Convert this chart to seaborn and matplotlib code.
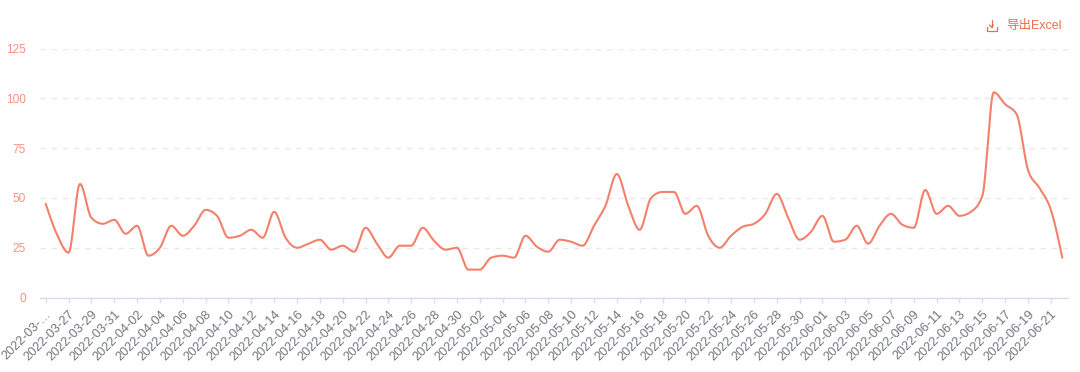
import matplotlib
matplotlib.use("Agg")
import matplotlib.pyplot as plt
import seaborn as sns
import numpy as np
from matplotlib.lines import Line2D

# one value per day, 2022-03-25 .. 2022-06-22
values = [47, 31.5, 22.5, 57, 40, 37, 39, 32, 36, 21,
          25, 36, 31, 36, 44, 41, 30, 31, 34, 30,
          43, 30, 25, 27, 29, 24, 26, 23, 35, 27,
          20, 26, 26, 35, 28.5, 24, 25, 14, 14, 20,
          21, 20, 31, 25.5, 23, 29, 28, 26, 36, 46,
          62, 46, 34, 50, 53, 53, 42, 46, 31, 25,
          31, 35.5, 37, 42, 52, 40, 29, 33, 41, 28,
          29, 36, 27, 36, 42, 36.5, 35, 54, 42, 46,
          41, 43, 51, 103, 97, 92, 64, 55, 44, 20]

tick_labels = ["2022-03-…", "2022-03-27", "2022-03-29", "2022-03-31", "2022-04-02",
               "2022-04-04", "2022-04-06", "2022-04-08", "2022-04-10", "2022-04-12",
               "2022-04-14", "2022-04-16", "2022-04-18", "2022-04-20", "2022-04-22",
               "2022-04-24", "2022-04-26", "2022-04-28", "2022-04-30", "2022-05-02",
               "2022-05-04", "2022-05-06", "2022-05-08", "2022-05-10", "2022-05-12",
               "2022-05-14", "2022-05-16", "2022-05-18", "2022-05-20", "2022-05-22",
               "2022-05-24", "2022-05-26", "2022-05-28", "2022-05-30", "2022-06-01",
               "2022-06-03", "2022-06-05", "2022-06-07", "2022-06-09", "2022-06-11",
               "2022-06-13", "2022-06-15", "2022-06-17", "2022-06-19", "2022-06-21"]

y_ticks = [0, 25, 50, 75, 100, 125]

W, H = 1080, 372
LINE = "#f4806c"
SALMON = "#f8917f"
BUTTON = "#f1694f"
GRAY = "#73767f"


def smooth_curve(y, steps=16):
    # monotone cubic between the daily values, flat at the local peaks
    y = np.asarray(y, dtype=float)
    s = np.diff(y)
    m = np.zeros(len(y))
    m[1:-1] = (np.sign(s[:-1]) + np.sign(s[1:])) * np.minimum.reduce(
        [np.abs(s[:-1]), np.abs(s[1:]), 0.25 * np.abs(s[:-1] + s[1:])])
    m[0] = (3 * s[0] - m[1]) / 2
    m[-1] = (3 * s[-1] - m[-2]) / 2
    t = np.linspace(0, 1, steps, endpoint=False)
    cx, cy = [], []
    for i in range(len(y) - 1):
        cx.append(i + t)
        cy.append((2 * t**3 - 3 * t**2 + 1) * y[i] + (t**3 - 2 * t**2 + t) * m[i]
                  + (-2 * t**3 + 3 * t**2) * y[i + 1] + (t**3 - t**2) * m[i + 1])
    cx.append([len(y) - 1])
    cy.append([y[-1]])
    return np.concatenate(cx), np.concatenate(cy)


sns.set_theme(style="white")
plt.rcParams['font.family'] = ['Liberation Sans', 'Noto Sans CJK SC', 'DejaVu Sans']

fig = plt.figure(figsize=(W / 100, H / 100), dpi=100)
ax = fig.add_axes([40 / W, 1 - 297.5 / H, 1028 / W, 249 / H])

xs = np.arange(len(values))
cx, cy = smooth_curve(values)

sns.lineplot(x=cx, y=cy, ax=ax, color=LINE, linewidth=1.5,
             estimator=None, sort=False, zorder=3)
ax.set_xlim(-0.5, len(values) - 0.5)
ax.set_ylim(0, 125)

for s in ["top", "right", "left"]:
    ax.spines[s].set_visible(False)
ax.spines["bottom"].set_color("#d8dcf0")
ax.spines["bottom"].set_linewidth(1)

ax.set_yticks(y_ticks)
ax.set_xticks(xs[::2])
ax.set_xticklabels(tick_labels, rotation=45, ha="right", rotation_mode="anchor")
ax.tick_params(axis="y", length=0, pad=10, labelsize=8.6, labelcolor=SALMON)
ax.tick_params(axis="x", bottom=True, length=3.6, width=1, color="#d8dcf0", pad=4,
               labelsize=9.2, labelcolor=GRAY)
ax.yaxis.grid(True, color="#e9e9e9", linestyle=(0, (4, 4)), linewidth=1)
ax.xaxis.grid(False)
ax.set_axisbelow(True)

# export button, top right
fig.text(1006 / W, 1 - 26 / H, "导出Excel", color=BUTTON, fontsize=9, va="center", ha="left")
icon = [((991.5, 20), (991.5, 27)), ((989.5, 25), (991.5, 27)), ((993.5, 25), (991.5, 27)),
        ((986.5, 27), (986.5, 30.5)), ((986.5, 30.5), (996.5, 30.5)), ((996.5, 30.5), (996.5, 27))]
for a, b in icon:
    fig.add_artist(Line2D([a[0] / W, b[0] / W], [1 - a[1] / H, 1 - b[1] / H],
                          color=BUTTON, linewidth=0.9))

plt.savefig("out.png", dpi=100)
